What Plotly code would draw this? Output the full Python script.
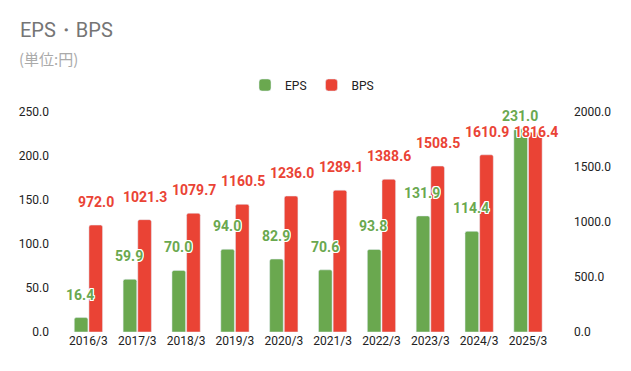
import plotly.graph_objects as go

categories = ["2016/3", "2017/3", "2018/3", "2019/3", "2020/3",
              "2021/3", "2022/3", "2023/3", "2024/3", "2025/3"]
eps = [16.4, 59.9, 70.0, 94.0, 82.9, 70.6, 93.8, 131.9, 114.4, 231.0]
bps = [972.0, 1021.3, 1079.7, 1160.5, 1236.0, 1289.1, 1388.6, 1508.5, 1610.9, 1816.4]
left_ticks = [0, 50, 100, 150, 200, 250]
right_ticks = [0, 500, 1000, 1500, 2000]

GREEN = "#6aa84f"
RED = "#ea4335"
FONT = "Roboto, Arial, sans-serif"
OUTLINE = "1px 1px 0 #fff, -1px -1px 0 #fff, 1px -1px 0 #fff, -1px 1px 0 #fff, 0 1px 0 #fff, 0 -1px 0 #fff, 1px 0 0 #fff, -1px 0 0 #fff"

# label vertical offsets (px) – collision-avoided positions for last group
eps_yshift = [23] * 9 + [13]
bps_yshift = [23] * 9 + [0]

W, H = 623, 363  # page body has an 8px margin

fig = go.Figure()
fig.add_trace(go.Bar(x=categories, y=eps, name="EPS", marker_color=GREEN,
                     offsetgroup="eps", yaxis="y"))
fig.add_trace(go.Bar(x=categories, y=bps, name="BPS", marker_color=RED,
                     offsetgroup="bps", yaxis="y2"))

annotations = []
for c, v, s in zip(categories, eps, eps_yshift):
    annotations.append(dict(x=c, y=v, xref="x", yref="y", text=f"{v:.1f}",
                            showarrow=False, xshift=-8, yshift=s, yanchor="middle",
                            font=dict(family=FONT, size=14, color=GREEN, weight="bold",
                                      shadow=OUTLINE)))
for c, v, s in zip(categories, bps, bps_yshift):
    annotations.append(dict(x=c, y=v, xref="x", yref="y2", text=f"{v:.1f}",
                            showarrow=False, xshift=8, yshift=s, yanchor="middle",
                            font=dict(family=FONT, size=14, color=RED, weight="bold",
                                      shadow=OUTLINE)))
annotations.append(dict(x=-47 / 496, y=(332 - 58) / 220, xref="paper", yref="paper",
                        text="(単位:円)", showarrow=False, xanchor="left", yanchor="middle",
                        font=dict(family="Noto Sans CJK JP", size=15, color="#aaaaaa")))

fig.update_layout(
    width=W, height=H,
    margin=dict(l=56, r=71, t=104, b=39),
    paper_bgcolor="white", plot_bgcolor="white",
    barmode="group", bargap=0.4, bargroupgap=0.07, barcornerradius=2,
    title=dict(text="EPS・BPS", x=12 / W, xanchor="left", xref="container",
               y=1 - 22 / H, yanchor="middle", yref="container",
               font=dict(family=FONT, size=20, color="#757575")),
    showlegend=True,
    legend=dict(orientation="h", x=0.5, xanchor="center", y=(332 - 85) / 220,
                yanchor="middle", font=dict(family=FONT, size=12, color="#222"),
                itemclick=False, traceorder="normal"),
    xaxis=dict(showgrid=False, showline=False, ticks="", tickfont=dict(family=FONT, size=12, color="#222")),
    yaxis=dict(range=[0, 250], tickvals=left_ticks, tickformat=".1f", showgrid=False,
               zeroline=False, showline=False, ticks="", ticklabelstandoff=14,
               tickfont=dict(family=FONT, size=12, color="#222")),
    yaxis2=dict(range=[0, 2000], tickvals=right_ticks, tickformat=".1f", overlaying="y",
                side="right", showgrid=False, zeroline=False, showline=False, ticks="",
                ticklabelstandoff=13,
                tickfont=dict(family=FONT, size=12, color="#222")),
    annotations=annotations,
)

fig.write_html("out.html")
